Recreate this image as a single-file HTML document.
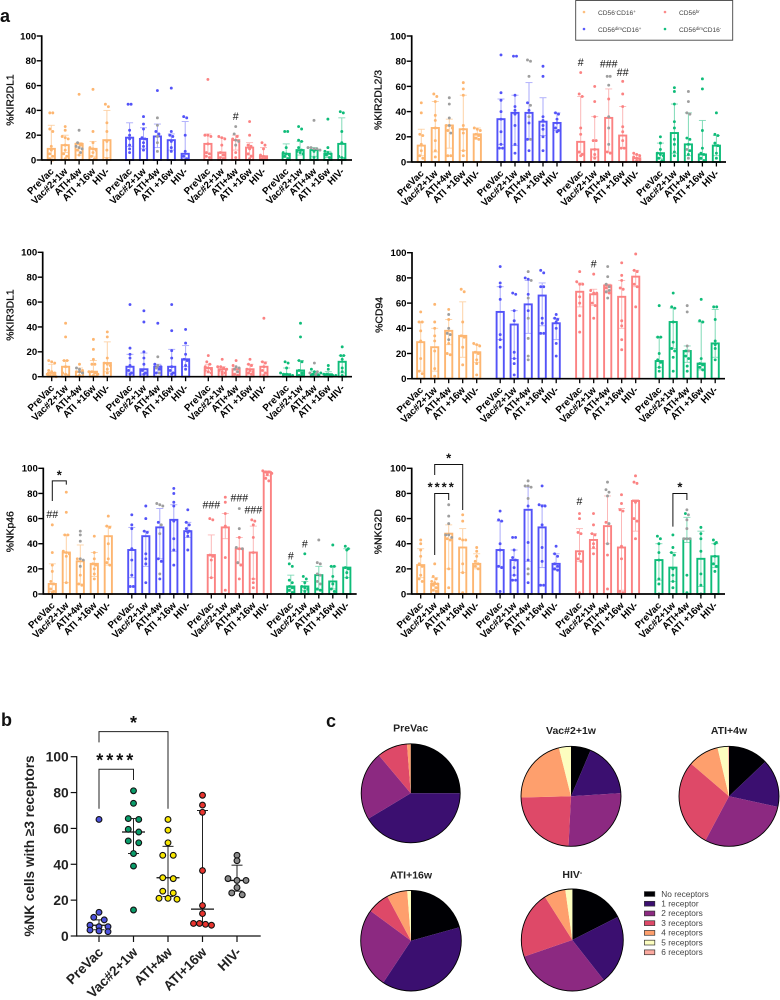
<!DOCTYPE html>
<html lang="en">
<head>
<meta charset="utf-8">
<title>NK cell receptor expression</title>
<style>
html,body{margin:0;padding:0;background:#fff;width:780px;height:1000px;overflow:hidden}
svg{display:block;font-family:"Liberation Sans",sans-serif;filter:blur(0.3px)}
</style>
</head>
<body>
<svg id="figure" xmlns="http://www.w3.org/2000/svg" width="780" height="1000" viewBox="0 0 780 1000">
  <rect x="0" y="0" width="780" height="1000" fill="#fff"/>
  <text x="0" y="22" font-size="18" font-weight="700" fill="#111">a</text>
  <text x="1" y="726" font-size="18" font-weight="700" fill="#111">b</text>
  <text x="326" y="727" font-size="18" font-weight="700" fill="#111">c</text>
  <g>
    <rect x="575.7" y="0.5" width="157" height="39.7" fill="#fff" stroke="#444" stroke-width="0.9"/>
    <circle cx="584" cy="12" r="1.3" fill="#fdbf7f"/>
    <text x="598" y="15" font-size="6.6" fill="#444">CD56<tspan dy="-2.2" font-size="4.4">-</tspan><tspan dy="2.2">CD16</tspan><tspan dy="-2.2" font-size="4.4">+</tspan></text>
    <circle cx="584" cy="29" r="1.3" fill="#5a5afc"/>
    <text x="598" y="32" font-size="6.6" fill="#444">CD56<tspan dy="-2.2" font-size="4.4">dim</tspan><tspan dy="2.2">CD16</tspan><tspan dy="-2.2" font-size="4.4">+</tspan></text>
    <circle cx="665" cy="12" r="1.3" fill="#fb8a8a"/>
    <text x="679" y="15" font-size="6.6" fill="#444">CD56<tspan dy="-2.2" font-size="4.4">br</tspan></text>
    <circle cx="665" cy="29" r="1.3" fill="#14bf7f"/>
    <text x="679" y="32" font-size="6.6" fill="#444">CD56<tspan dy="-2.2" font-size="4.4">dim</tspan><tspan dy="2.2">CD16</tspan><tspan dy="-2.2" font-size="4.4">-</tspan></text>
  </g>
</svg>
<script>
/* ---------- shared categories ---------- */
const timepoints = ['PreVac','Vac#2+1w','ATI+4w','ATI +16w','HIV-'];
const subsets = ['cd56neg','cd56dim-cd16pos','cd56br','cd56dim-cd16neg'];
const yTickLabels = [0,20,40,60,80,100];

/* ---------- %KIR2DL1 ---------- */
const kir2dl1Means = [[9,12,13,9,16],[18,17,19,16,5],[13,6,16,10,3],[5,8,8,5,13]];
const kir2dl1Low = [[0,6,4,3,2],[11,9,10,8,1],[5,2,8,4,1],[2,4,3,2,2]];
const kir2dl1High = [[28,20,14,15,40],[30,26,29,21,31],[21,18,20,14,10],[13,15,10,7,34]];
const kir2dl1Points = [
 [[38,38,25,23,11,8,5,3,1,0],[27,24,19,18,17,12,8,5,3,1],[53,12,8,4],[57,23,14,10,9,8,6,3,1],[45,43,30,23,15,8,1]],
 [[45,45,24,20,17,12,9,6],[35,29,25,18,17,14,11,8],[56,23,21],[58,23,20,19,15,10,7],[35,34,20,7,3,1,0]],
 [[65,20,20,19,13,6,5,3,2],[19,18,17,12,6,4,2,1],[19,17,6,2],[31,20,12,11,9,5,3,1],[14,12,9,4,3,2,1,1]],
 [[23,23,10,6,5,4,3,1],[27,25,16,15,10,8,7,6,5],[7,2],[33,10,7,6,5,4,2],[38,39,23,14,3,2,1]]];
const kir2dl1Gray = [[24,14,11,10,9,6],[34,28,19,14,7],[27,21,16,15,12],[32,10,10,9,9,8]];

/* ---------- %KIR2DL2/3 ---------- */
const kir2dl23Means = [[13,27,29,26,22],[34,39,39,32,31],[16,10,35,21,3],[7,23,14,6,13]];
const kir2dl23Low = [[5,8,11,9,18],[14,13,18,21,25],[7,4,8,11,1],[3,7,5,2,5]];
const kir2dl23High = [[26,48,34,53,27],[50,53,63,51,39],[52,36,58,44,6],[15,46,39,33,21]];
const kir2dl23Points = [
 [[47,39,22,21,14,9,5,3],[54,52,48,37,33,27,17,9,4],[29,27,25,5,5],[63,58,53,29,26,23,9,5],[27,26,25,22,21,19,18]],
 [[85,55,49,40,34,24,14,11,11],[84,84,53,44,41,38,29,14,7],[47,41,31,18,9],[76,68,36,33,29,26,20,9],[39,38,34,31,27,25,24]],
 [[71,54,52,27,22,8,6,5],[60,48,36,17,17,10,6,3],[50,8,7],[64,54,44,28,24,17,11,11],[7,6,5,4,3,2,1]],
 [[20,15,10,7,6,5,3,1],[59,56,46,32,27,18,14,8,5],[19,18,14,9,6],[66,58,25,11,7,6,3,1],[39,22,21,15,13,7,3]]];
const kir2dl23Gray = [[51,46,35,29,23],[81,80,68,45,36,18],[68,68,61,36,27,14],[56,48,39,38,10,3]];

/* ---------- %KIR3DL1 ---------- */
const kir3dl1Means = [[3,8,4,4,11],[8,6,8,8,14],[7,6,6,6,8],[2,5,2,2,12]];
const kir3dl1Low = [[1,2,1,1,4],[3,2,3,3,8],[3,3,2,2,2],[1,1,1,1,3]];
const kir3dl1High = [[10,13,7,13,28],[18,19,10,22,25],[10,8,7,10,12],[7,13,4,4,17]];
const kir3dl1Points = [
 [[13,12,11,5,4,3,2,1,1,0],[43,32,13,13,8,3,2,1],[10,5,4,1],[30,22,14,10,10,4,4,3,2,1],[36,32,15,11,10,9,6,3]],
 [[58,23,18,15,9,5,3,2],[53,44,20,15,10,5,3,2],[43,10,8,6,3],[58,37,21,15,8,5,3,2],[38,27,18,14,13,9,6]],
 [[17,12,10,8,7,6,5,4,3],[14,8,8,7,6,5,4,3,2],[13,9,2,1],[14,10,9,6,5,4,3,2],[47,12,11,8,5,3,1]],
 [[12,11,7,3,2,2,1,1],[43,32,13,12,5,3,1,1],[6,4,2,1],[9,6,3,2,2,1,1,1],[24,17,17,14,7,4,1]]];
const kir3dl1Gray = [[7,6,4,3],[16,9,7,3],[8,7,6,4],[11,4,3,2]];

/* ---------- %CD94 ---------- */
const cd94Means = [[29,25,38,34,21],[53,43,59,66,44],[69,67,74,65,81],[14,45,22,12,28]];
const cd94Low = [[6,6,27,17,13],[31,16,36,42,31],[57,58,68,40,73],[9,24,13,7,17]];
const cd94High = [[45,40,47,61,27],[73,54,78,76,48],[76,71,75,78,86],[33,56,26,45,55]];
const cd94Points = [
 [[53,45,45,38,30,16,6,4],[59,45,40,34,30,22,8,2],[55,47,28,20,19],[71,69,45,34,33,25,11],[28,27,26,21,20,15,12,3]],
 [[89,76,73,63,35,31,25],[67,68,54,46,21,16,12,3],[80,79,67,54],[86,84,73,73,48,44,36,36],[51,48,47,45,40,28,18]],
 [[85,77,75,75,65,60,50,37],[83,70,68,68,60,58,48],[72,68],[92,82,78,72,71,46,42,31,23],[99,86,85,75,73,57]],
 [[58,33,33,20,15,13,9,6],[68,57,56,45,29,24,22,17,6],[22,18,16,10,6],[63,46,45,16,12,11,9,7],[57,57,47,30,27,24,15]]];
const cd94Gray = [[51,40,36,35,31],[85,78,64,48,32,18,15],[89,81,75,73,70,69,64],[58,53,26,22]];

/* ---------- %NKp46 ---------- */
const nkp46Means = [[8,33,26,24,46],[35,46,53,59,50],[31,53,36,33,97],[6,6,15,10,21]];
const nkp46Low = [[2,9,8,14,23],[13,22,28,34,45],[13,44,24,12,94],[2,3,3,4,13]];
const nkp46High = [[24,47,39,33,54],[53,50,68,71,57],[47,64,45,54,98],[15,10,22,22,36]];
const nkp46Points = [
 [[55,33,23,18,10,8,4,2,1],[81,65,47,47,34,33,32,30,9],[28,15,8,7],[46,33,28,24,23,20,16,12],[62,54,53,40,28,25,23]],
 [[63,55,52,36,27,15,6,6],[70,60,50,49,32,28,24,9],[57,28,26,12],[84,80,73,70,58,44,35,23],[67,57,55,52,50,49,46,35]],
 [[60,59,31,30,27,13],[77,73,64,54,29,3],[45,36,23,12],[59,58,55,45,33,12,9,5],[98,97,97,96,95,92,90]],
 [[24,22,11,9,6,5,3,1],[32,14,12,9,6,5,4,2],[4,3],[39,22,22,14,8,4,2],[38,36,35,21,20,17,13]]];
const nkp46Gray = [[50,47,42,28,27,22],[71,70,72,55,48,16],[68,52,37,36,25],[43,25,24,16,15,10,8]];

/* ---------- %NKG2D ---------- */
const nkg2dMeans = [[23,8,48,37,24],[35,27,67,53,24],[34,43,54,37,74],[27,21,44,28,30]];
const nkg2dLow = [[13,3,20,17,20],[22,15,26,21,19],[26,36,40,3,50],[11,10,41,6,21]];
const nkg2dHigh = [[36,13,55,52,32],[58,35,85,71,32],[52,48,78,68,75],[40,33,61,50,40]];
const nkg2dPoints = [
 [[43,40,35,30,24,22,15,12,10],[24,14,12,10,9,8,7,5,3,2],[44,43,20,5],[63,58,44,43,43,24,17,1],[37,34,30,26,24,22,20]],
 [[66,59,58,40,35,22,21,2],[45,45,35,29,27,21,15,11,11],[70,41,27,9],[86,71,70,70,55,37,26,7,7],[38,32,30,24,22,20,19]],
 [[64,60,49,48,32,28,26,1],[64,55,48,47,40,37,32],[57,31,4],[79,72,67,66,38,28,2,1],[94,89,88,73,60,58,44]],
 [[46,44,40,33,27,12,8,0],[47,37,33,31,20,15,10,5],[64,15,1],[53,48,44,34,16,7,0],[43,41,40,30,24,22,18]]];
const nkg2dGray = [[71,62,56,47,47,45],[90,86,86,85,76,20,16],[89,83,81,78,56,40],[67,63,59,52,44,44,44]];

/* ---------- annotations, keyed to subset / timepoint / value ---------- */
const kir2dl1Hashes = [['#',2,2,35]];
const kir2dl23Hashes = [['#',2,0,79],['###',2,2,78],['##',2,3,71]];
const kir3dl1Hashes = [];
const cd94Hashes = [['#',2,1,91]];
const nkp46Hashes = [['##',0,0,63.5],['###',2,0,71],['###',2,2,76.5],['###',2,3,67],['#',3,0,30.5],['#',3,1,40]];
const nkg2dHashes = [['#',2,0,73.5]];
const nkp46Brackets = [[0,0,1,74,90,87]];
const nkg2dBrackets = [[0,1,3,94.7,103,66.8],[0,1,2,31,80,74.8],[3,1,2,53.6,80,74.8]];
const nkp46Stars = [['*',0,0.5,96.5]];
const nkg2dStars = [['*',0,2,110],['****',0,1.5,87],['*',3,1.5,87]];

/* ---------- panel b ---------- */
const bCategories = ['PreVac','Vac#2+1w','ATI+4w','ATI+16w','HIV-'];
const bTicks = [0,20,40,60,80,100];
const bMedian = [6,58,32.5,15,31];
const bLow = [3.5,46,22,6.5,25];
const bHigh = [9,65.5,50,70,39.5];
const bPreVac = [65,13.2,10.4,9,6,5.2,5.2,3.3,2.8,2.4];
const bVac = [81,74,65.5,65,59.5,58,53,52,46,39,14.5];
const bAti4 = [65,59,52,45,45,32.5,32,25,24,21,20.5,21];
const bAti16 = [78.5,73,69,36.5,17,12.5,7,7,6.5,6];
const bHiv = [45,42,32,31,31,27,24,23];
const bSeriesValues = [bPreVac,bVac,bAti4,bAti16,bHiv];

/* ---------- panel c ---------- */
const pieLegendLabels = ['No receptors','1 receptor','2 receptors','3 receptors','4 receptors','5 receptors','6 receptors'];
const piePreVac = [25,41.4,22.5,9.9,1.2,0,0];
const pieVac = [6.4,17.6,26.8,23.8,21.5,3.9,0];
const pieAti4 = [12.9,15.5,29.4,28.5,10,3.4,0.3];
const pieAti16 = [20.7,38.6,25.8,7.1,6.6,1.2,0];
const pieHiv = [17.5,21.9,30.3,21.3,6.8,2.2,0];

/* ---------- drawing helpers ---------- */
const NS = 'http://www.w3.org/2000/svg';
const root = document.getElementById('figure');
function mk(tag, attrs, parent, txt){
  const el = document.createElementNS(NS, tag);
  for (const k in attrs) el.setAttribute(k, attrs[k]);
  if (txt !== undefined) el.textContent = txt;
  parent.appendChild(el);
  return el;
}
function swarm(items, bin, stepFor){
  const sorted = items.slice().sort((a,b)=>b.v-a.v);
  const out = [];
  let i = 0;
  while (i < sorted.length){
    let j = i;
    while (j < sorted.length && sorted[i].v - sorted[j].v < bin) j++;
    const n = j - i;
    const step = stepFor(n);
    for (let k = i; k < j; k++) out.push({v:sorted[k].v, gray:sorted[k].gray, off:(k-i-(n-1)/2)*step});
    i = j;
  }
  return out;
}

const barColors = ['#fdb671','#5353f8','#fb8282','#0fbc79'];
const errColors = ['#fdd2a6','#aaaafb','#fcb8b8','#80dab7'];

const panels = [
 {name:'kir2dl1', title:'%KIR2DL1', axisX:41.7, axisEnd:352, y100:36, y0:160, first:51.3, gap:78.3, dx:13.9, titleX:10, titleY:100,
  means:kir2dl1Means, low:kir2dl1Low, high:kir2dl1High, pts:kir2dl1Points, gray:kir2dl1Gray, hashes:kir2dl1Hashes, brackets:[], stars:[]},
 {name:'kir2dl23', title:'%KIR2DL2/3', axisX:411.7, axisEnd:726, y100:36, y0:162, first:421.3, gap:79.7, dx:14, titleX:378, titleY:100,
  means:kir2dl23Means, low:kir2dl23Low, high:kir2dl23High, pts:kir2dl23Points, gray:kir2dl23Gray, hashes:kir2dl23Hashes, brackets:[], stars:[]},
 {name:'kir3dl1', title:'%KIR3DL1', axisX:42.7, axisEnd:352, y100:252.3, y0:376.7, first:51.7, gap:78.3, dx:13.9, titleX:10, titleY:315,
  means:kir3dl1Means, low:kir3dl1Low, high:kir3dl1High, pts:kir3dl1Points, gray:kir3dl1Gray, hashes:kir3dl1Hashes, brackets:[], stars:[]},
 {name:'cd94', title:'%CD94', axisX:412, axisEnd:725, y100:252.7, y0:378.7, first:420.7, gap:79.5, dx:14, titleX:379, titleY:315,
  means:cd94Means, low:cd94Low, high:cd94High, pts:cd94Points, gray:cd94Gray, hashes:cd94Hashes, brackets:[], stars:[]},
 {name:'nkp46', title:'%NKp46', axisX:43.3, axisEnd:356.7, y100:468.3, y0:594, first:52.3, gap:79.5, dx:14, titleX:10, titleY:531.7,
  means:nkp46Means, low:nkp46Low, high:nkp46High, pts:nkp46Points, gray:nkp46Gray, hashes:nkp46Hashes, brackets:nkp46Brackets, stars:nkp46Stars},
 {name:'nkg2d', title:'%NKG2D', axisX:411.7, axisEnd:725, y100:468.3, y0:594, first:420.7, gap:79.4, dx:14, titleX:378, titleY:531.7,
  means:nkg2dMeans, low:nkg2dLow, high:nkg2dHigh, pts:nkg2dPoints, gray:nkg2dGray, hashes:nkg2dHashes, brackets:nkg2dBrackets, stars:nkg2dStars}
];

function drawPanel(p){
  const yScale = v => p.y0 - (v/100)*(p.y0 - p.y100);
  const xScale = (g,t) => p.first + g*p.gap + t*p.dx;
  const grp = mk('g',{},root);
  
  

  const title = mk('text',{x:0,y:0,transform:'translate('+(p.titleX+3.7)+','+p.titleY+') rotate(-90)','text-anchor':'middle','font-size':10.4,fill:'#111','stroke':'#111','stroke-width':0.3},grp,p.title);
  
  

  yTickLabels.forEach(v=>{
    const tick = mk('line',{x1:p.axisX-5,x2:p.axisX,y1:yScale(v),y2:yScale(v),stroke:'#000','stroke-width':1.4},grp);
    
    
    const lab = mk('text',{x:p.axisX-5.5,y:yScale(v)+3.4,'text-anchor':'end','font-size':9.6,'font-weight':700,fill:'#000'},grp,String(v));
    
    
  });

  p.means.forEach((row,g)=>{
    row.forEach((m,t)=>{
      const cx = xScale(g,t);
      const bg = mk('g',{},grp);
      
      

      const err = mk('line',{x1:cx,x2:cx,y1:yScale(p.low[g][t]),y2:yScale(p.high[g][t]),stroke:errColors[g],'stroke-width':1},bg);
      
      
      [p.low[g][t],p.high[g][t]].forEach(v=>{
        const cap = mk('line',{x1:cx-3.5,x2:cx+3.5,y1:yScale(v),y2:yScale(v),stroke:errColors[g],'stroke-width':0.9},bg);
        
        
      });

      const bar = mk('rect',{x:cx-3.6,y:yScale(m),width:7.2,height:Math.max(0,p.y0-yScale(m)),fill:'none',stroke:barColors[g],'stroke-width':1.9},bg);
      
      

      const items = p.pts[g][t].map(v=>({v:v,gray:false}));
      if (t === 2) p.gray[g].forEach(v=>items.push({v:v,gray:true}));
      swarm(items,2.5,()=>3).forEach(pt=>{
        const dot = mk('circle',{cx:cx+pt.off,cy:yScale(pt.v),r:1.45,fill:pt.gray?'#9e9e9e':barColors[g]},bg);
        
        
      });

      const xt = mk('line',{x1:cx,x2:cx,y1:p.y0,y2:p.y0+4.5,stroke:'#000','stroke-width':1.3},grp);
      
      
      const lab = mk('text',{x:0,y:0,transform:'translate('+(cx+3)+','+(p.y0+12)+') rotate(-45)','text-anchor':'end','font-size':9.8,'font-weight':700,fill:'#000'},grp,timepoints[t]);
      
      
    });
  });

  const yAxis = mk('line',{x1:p.axisX,x2:p.axisX,y1:p.y100-0.7,y2:p.y0+0.7,stroke:'#000','stroke-width':1.7},grp);
  
  
  const xAxis = mk('line',{x1:p.axisX,x2:p.axisEnd,y1:p.y0,y2:p.y0,stroke:'#000','stroke-width':1.7},grp);
  
  

  p.hashes.forEach(h=>{
    const el = mk('text',{x:xScale(h[1],h[2]),y:yScale(h[3])+3.6,'text-anchor':'middle','font-size':10.6,fill:'#111'},grp,h[0]);
    
    
  });
  p.brackets.forEach(b=>{
    const x1 = xScale(b[0],b[1]), x2 = xScale(b[0],b[2]);
    const el = mk('path',{d:'M'+x1+' '+yScale(b[3])+'V'+yScale(b[4])+'H'+x2+'V'+yScale(b[5]),fill:'none',stroke:'#111','stroke-width':1},grp);
    
    
  });
  p.stars.forEach(s=>{
    const el = mk('text',{x:xScale(s[1],s[2]),y:yScale(s[3])+7,'text-anchor':'middle','font-size':13,'font-weight':700,'letter-spacing':s[0].length>1?2:0,fill:'#111'},grp,s[0]);
    
    
  });
}
panels.forEach(drawPanel);

/* ---------- panel b ---------- */
(function(){
  const bAxisX = 76.7, bAxisEnd = 260.7, bY100 = 756.7, bY0 = 936;
  const bFirst = 99, bStep = 34.5;
  const bColors = ['#4d52dc','#0a9c6a','#f7e600','#e9342e','#8a8a8a'];
  const y = v => bY0 - (v/100)*(bY0 - bY100);
  const x = i => bFirst + i*bStep;
  const grp = mk('g',{},root);
  
  

  const title = mk('text',{x:0,y:0,transform:'translate(34,846) rotate(-90)','text-anchor':'middle','font-size':13.6,'font-weight':700,fill:'#222'},grp,'%NK cells with \u22653 receptors');
  
  

  bTicks.forEach(v=>{
    const t = mk('line',{x1:bAxisX-6,x2:bAxisX,y1:y(v),y2:y(v),stroke:'#111','stroke-width':1.2},grp);
    
    
    const l = mk('text',{x:bAxisX-8,y:y(v)+5,'text-anchor':'end','font-size':13.8,'font-weight':700,fill:'#222'},grp,String(v));
    
    
  });

  bCategories.forEach((c,i)=>{
    const cx = x(i);
    const t = mk('line',{x1:cx,x2:cx,y1:bY0,y2:bY0+6,stroke:'#111','stroke-width':1.2},grp);
    
    
    const l = mk('text',{x:0,y:0,transform:'translate('+(cx+5)+','+(bY0+17)+') rotate(-45)','text-anchor':'end','font-size':13.6,'font-weight':700,fill:'#222'},grp,c);
    
    

    const spine = mk('line',{x1:cx,x2:cx,y1:y(bLow[i]),y2:y(bHigh[i]),stroke:'#222','stroke-width':1},grp);
    
    
    [bLow[i],bHigh[i]].forEach(v=>{
      const cap = mk('line',{x1:cx-5.5,x2:cx+5.5,y1:y(v),y2:y(v),stroke:'#222','stroke-width':1},grp);
      
      
    });
    const med = mk('line',{x1:cx-11.5,x2:cx+11.5,y1:y(bMedian[i]),y2:y(bMedian[i]),stroke:'#111','stroke-width':1.3},grp);
    
    

    swarm(bSeriesValues[i].map(v=>({v:v,gray:false})),2.6,n=>n>=4?6:(n===3?9:10.5)).forEach(pt=>{
      const dot = mk('circle',{cx:cx+pt.off,cy:y(pt.v),r:2.9,fill:bColors[i],stroke:'#111','stroke-width':1.1},grp);
      
      
    });
  });

  const yA = mk('line',{x1:bAxisX,x2:bAxisX,y1:bY100-0.6,y2:bY0+0.6,stroke:'#111','stroke-width':1.2},grp);
  
  
  const xA = mk('line',{x1:bAxisX,x2:bAxisEnd,y1:bY0,y2:bY0,stroke:'#111','stroke-width':1.2},grp);
  
  

  const br1 = mk('path',{d:'M'+x(0)+' '+y(71)+'V'+y(93)+'H'+x(1)+'V'+y(87),fill:'none',stroke:'#222','stroke-width':1},grp);
  
  
  const br2 = mk('path',{d:'M'+x(0)+' '+y(108)+'V'+y(114)+'H'+x(2)+'V'+y(71),fill:'none',stroke:'#222','stroke-width':1},grp);
  
  
  const s1 = mk('text',{x:x(0.5),y:y(100)+10,'text-anchor':'middle','font-size':18,'font-weight':700,'letter-spacing':3,fill:'#111'},grp,'****');
  
  
  const s2 = mk('text',{x:x(1),y:729,'text-anchor':'middle','font-size':18,'font-weight':700,fill:'#111'},grp,'*');
  
  
})();

/* ---------- panel c ---------- */
(function(){
  const colors = ['#000004','#3b0f70','#8c2981','#de4968','#fe9f6d','#fcfdbf','#fcaaa0'];
  const pies = [
    {title:'PreVac', vals:piePreVac, cx:410.7, cy:793.3, r:49.5, ty:731.7},
    {title:'Vac#2+1w', vals:pieVac, cx:571, cy:796.3, r:50, ty:734},
    {title:'ATI+4w', vals:pieAti4, cx:729, cy:796.3, r:50, ty:734},
    {title:'ATI+16w', vals:pieAti16, cx:411, cy:940.7, r:50.3, ty:878.3},
    {title:'HIV', vals:pieHiv, cx:572.3, cy:940, r:51, ty:878, sup:true}
  ];
  pies.forEach(p=>{
    const grp = mk('g',{},root);
    
    
    const t = mk('text',{x:p.cx,y:p.ty,'text-anchor':'middle','font-size':10.5,'font-weight':700,fill:'#222'},grp,p.title);
    
    
    if (p.sup){
      const sup = mk('tspan',{dy:-3,'font-size':7},t,'-');
      
      
    }
    const total = p.vals.reduce((a,b)=>a+b,0);
    let acc = 0;
    p.vals.forEach((v,i)=>{
      if (v <= 0) return;
      const a0 = acc/total*2*Math.PI, a1 = (acc+v)/total*2*Math.PI;
      acc += v;
      const large = (a1-a0) > Math.PI ? 1 : 0;
      const d = 'M'+p.cx+' '+p.cy+
        'L'+(p.cx+p.r*Math.sin(a0))+' '+(p.cy-p.r*Math.cos(a0))+
        'A'+p.r+' '+p.r+' 0 '+large+' 1 '+(p.cx+p.r*Math.sin(a1))+' '+(p.cy-p.r*Math.cos(a1))+'Z';
      const s = mk('path',{d:d,fill:colors[i]},grp);
      
      
    });
    const ring = mk('circle',{cx:p.cx,cy:p.cy,r:p.r,fill:'none',stroke:'#000','stroke-width':0.9},grp);
    
    
  });

  const lg = mk('g',{},root);
  
  
  pieLegendLabels.forEach((label,i)=>{
    const y = 894 + i*9.72;
    const sw = mk('rect',{x:644.4,y:y-2.4,width:10.4,height:4.8,fill:colors[i],stroke:'#333','stroke-width':0.7},lg);
    
    
    const t = mk('text',{x:661.3,y:y+2.8,'font-size':8.3,fill:'#444'},lg,label);
    
    
  });
})();
</script>
</body>
</html>
